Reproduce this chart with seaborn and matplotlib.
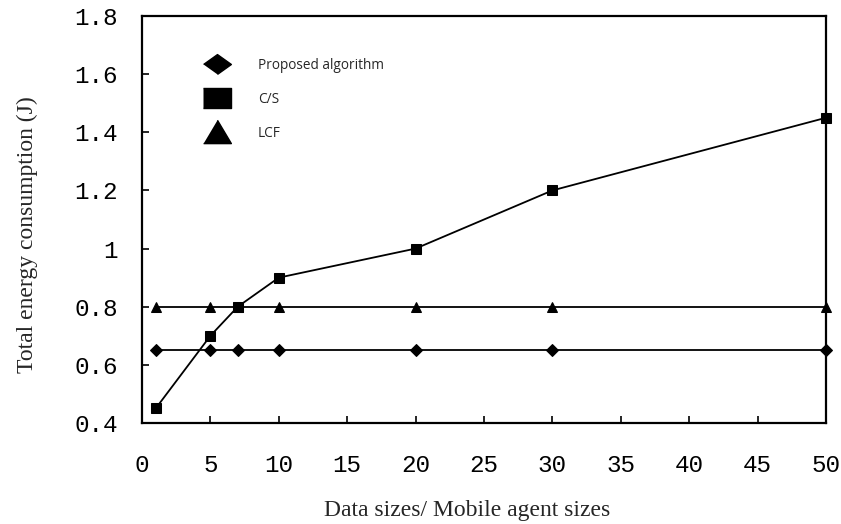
import matplotlib
matplotlib.use("Agg")
import matplotlib.pyplot as plt
import seaborn as sns
import pandas as pd
from matplotlib.lines import Line2D

sizes = [1, 5, 7, 10, 20, 30, 50]
proposed = [0.65, 0.65, 0.65, 0.65, 0.65, 0.65, 0.65]
cs = [0.45, 0.70, 0.80, 0.90, 1.00, 1.20, 1.45]
lcf = [0.80, 0.80, 0.80, 0.80, 0.80, 0.80, 0.80]
series_names = ["Proposed algorithm", "C/S", "LCF"]
markers = ["D", "s", "^"]
x_ticks = [0, 5, 10, 15, 20, 25, 30, 35, 40, 45, 50]
y_ticks = [0.4, 0.6, 0.8, 1.0, 1.2, 1.4, 1.6, 1.8]
y_tick_labels = ["0.4", "0.6", "0.8", "1", "1.2", "1.4", "1.6", "1.8"]

df = pd.DataFrame({
    "size": sizes * 3,
    "energy": proposed + cs + lcf,
    "series": [series_names[0]] * 7 + [series_names[1]] * 7 + [series_names[2]] * 7,
})

sns.set_style("white")
fig = plt.figure(figsize=(8.41, 5.24), dpi=100)
ax = fig.add_axes([142 / 841, 1 - 423 / 524, (826 - 142) / 841, (423 - 16) / 524])

marker_sizes = {"Proposed algorithm": 6.5, "C/S": 7, "LCF": 7}
for name, mk in zip(series_names, markers):
    sub = df[df["series"] == name]
    sns.lineplot(data=sub, x="size", y="energy", ax=ax, color="black",
                 linewidth=1.3, marker=mk, markersize=marker_sizes[name],
                 markeredgecolor="black", markerfacecolor="black",
                 clip_on=False, legend=False)

ax.set_xlim(0, 50)
ax.set_ylim(0.4, 1.8)
ax.set_xticks(x_ticks)
ax.set_yticks(y_ticks)
ax.set_yticklabels(y_tick_labels)
mono = "Liberation Mono"
for lbl in ax.get_xticklabels() + ax.get_yticklabels():
    lbl.set_fontfamily(mono)
    lbl.set_fontsize(17.5)
ax.tick_params(axis="x", direction="in", length=5, width=1.2, pad=22, colors="black")
ax.tick_params(axis="y", direction="in", length=5, width=1.2, pad=17.5, colors="black")
ax.tick_params(axis="x", bottom=True)
ax.tick_params(axis="y", left=True)
for sp in ax.spines.values():
    sp.set_color("black")
    sp.set_linewidth(1.6)

ax.set_xlabel("Data sizes/ Mobile agent sizes", fontfamily="Liberation Serif",
              fontsize=17, labelpad=17)
ax.set_ylabel("Total energy consumption (J)", fontfamily="Liberation Serif",
              fontsize=17, labelpad=26)
ax.xaxis.label.set_x(0.476)
ax.yaxis.label.set_y(0.462)

# wide legend glyphs
legend_shapes = [
    [(-1.4, 0), (0, 1), (1.4, 0), (0, -1)],
    [(-1.4, -1), (1.4, -1), (1.4, 1), (-1.4, 1)],
    [(-1.25, -1), (1.25, -1), (0, 1.1)],
]
handles = [Line2D([], [], linestyle="none", marker=v, color="black",
                  markersize=20) for v in legend_shapes]
leg = ax.legend(handles, series_names, loc="upper left",
                bbox_to_anchor=(0.082, 0.91), frameon=False,
                prop={"family": "Open Sans", "size": 9.8},
                handlelength=2.0, handletextpad=2.0, labelspacing=1.4,
                borderaxespad=0)

fig.savefig("out.png", dpi=100)
